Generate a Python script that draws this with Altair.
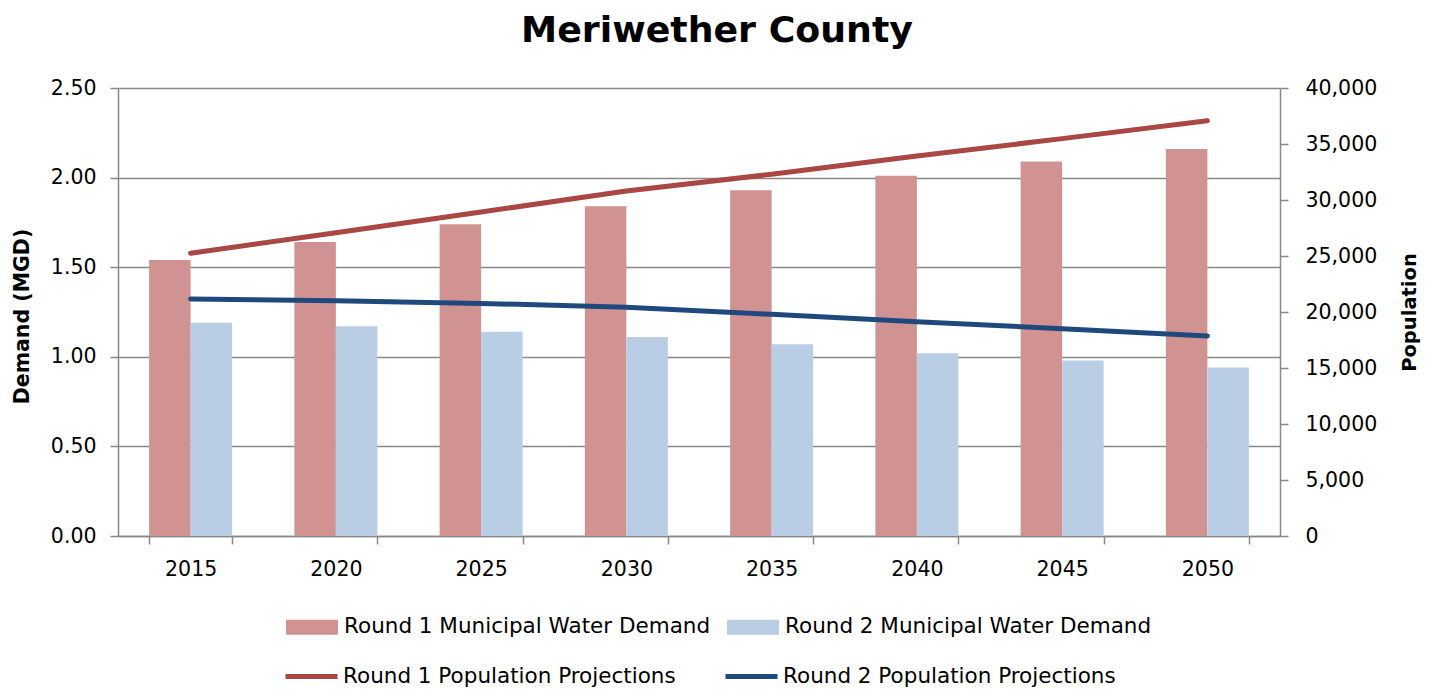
import altair as alt
import pandas as pd

years = ["2015", "2020", "2025", "2030", "2035", "2040", "2045", "2050"]
r1_demand = [1.54, 1.64, 1.74, 1.84, 1.93, 2.01, 2.09, 2.16]
r2_demand = [1.19, 1.17, 1.14, 1.11, 1.07, 1.02, 0.98, 0.94]
r1_pop = [25240, 27080, 28930, 30800, 32300, 33930, 35480, 37080]
r2_pop = [21160, 21010, 20770, 20420, 19790, 19140, 18510, 17860]

bar_names = ["Round 1 Municipal Water Demand", "Round 2 Municipal Water Demand"]
line_names = ["Round 1 Population Projections", "Round 2 Population Projections"]
bar_colors = ["#D19392", "#B9CDE5"]
line_colors = ["#AA4643", "#1F497D"]

bar_df = pd.DataFrame({
    "year": years * 2,
    "series": [bar_names[0]] * len(years) + [bar_names[1]] * len(years),
    "demand": r1_demand + r2_demand,
})
line_df = pd.DataFrame({
    "year": years * 2,
    "series": [line_names[0]] * len(years) + [line_names[1]] * len(years),
    "pop": r1_pop + r2_pop,
})

FONT = "DejaVu Sans"
GRID = "#888888"

x_enc = alt.X(
    "year:N",
    sort=years,
    title=None,
    scale=alt.Scale(paddingInner=0.4286, paddingOuter=0.2143),
    axis=alt.Axis(
        labelAngle=0, labelFont=FONT, labelFontSize=20.5, labelColor="black",
        labelPadding=15, tickBand="extent", tickSize=8, tickColor=GRID,
        tickWidth=1.5, domainColor=GRID, domainWidth=1.5, grid=False,
    ),
)

bars = alt.Chart(bar_df).mark_bar().encode(
    x=x_enc,
    xOffset=alt.XOffset("series:N", sort=bar_names, scale=alt.Scale(paddingInner=0, paddingOuter=0)),
    y=alt.Y(
        "demand:Q",
        scale=alt.Scale(domain=[0, 2.5], nice=False, zero=True),
        axis=alt.Axis(
            title="Demand (MGD)", orient="left", values=[0, 0.5, 1.0, 1.5, 2.0, 2.5],
            format=".2f", labelFont=FONT, labelFontSize=20.5, labelColor="black",
            labelPadding=14, tickSize=8, tickColor=GRID, tickWidth=1.5,
            domainColor=GRID, domainWidth=1.5, grid=True, gridColor=GRID,
            gridWidth=1.5, titleFont=FONT, titleFontSize=20.5, titleFontWeight="bold",
            titleColor="black", titleAngle=270, titleX=-96, titleY=228,
            titleAlign="center", titleBaseline="middle",
        ),
    ),
    fill=alt.Fill(
        "series:N", sort=bar_names,
        scale=alt.Scale(domain=bar_names, range=bar_colors),
        legend=alt.Legend(
            title=None, orient="none", legendX=168, legendY=513,
            direction="horizontal", symbolType="M-1,-0.29H1V0.29H-1Z",
            symbolSize=2704, symbolStrokeWidth=0, labelFont=FONT,
            labelFontSize=21.5, labelColor="black", labelOffset=6,
            columnPadding=16, padding=0, labelLimit=600,
        ),
    ),
)

lines = alt.Chart(line_df).mark_line(strokeWidth=5, strokeCap="round").encode(
    x=alt.X("year:N", sort=years),
    y=alt.Y(
        "pop:Q",
        scale=alt.Scale(domain=[0, 40000], nice=False, zero=True),
        axis=alt.Axis(
            title="Population", orient="right",
            values=[0, 5000, 10000, 15000, 20000, 25000, 30000, 35000, 40000],
            format=",.0f", labelFont=FONT, labelFontSize=20.5, labelColor="black",
            labelPadding=17, tickSize=8, tickColor=GRID, tickWidth=1.5,
            domainColor=GRID, domainWidth=1.5, grid=False, titleFont=FONT,
            titleFontSize=19.5, titleFontWeight="bold", titleColor="black",
            titleAngle=270, titleX=129, titleY=224, titleAlign="center",
            titleBaseline="middle",
        ),
    ),
    stroke=alt.Stroke(
        "series:N", sort=line_names,
        scale=alt.Scale(domain=line_names, range=line_colors),
        legend=alt.Legend(
            title=None, orient="none", legendX=165, legendY=560,
            direction="horizontal", symbolType="stroke", symbolSize=2704,
            symbolStrokeWidth=5, labelFont=FONT, labelFontSize=21.5,
            labelColor="black", labelOffset=3, columnPadding=39, padding=0,
            labelLimit=600,
        ),
    ),
)

chart = (
    alt.layer(bars, lines)
    .resolve_scale(y="independent")
    .properties(
        width=1162,
        height=448,
        autosize=alt.AutoSizeParams(type="none"),
        padding={"left": 110, "top": 80, "right": 141, "bottom": 152},
        title=alt.TitleParams(
            "Meriwether County", font=FONT, fontSize=36.3, fontWeight="bold",
            color="black", anchor="middle", dx=18, offset=29,
        ),
    )
    .configure_view(strokeWidth=0)
)

chart.save("out.html", embed_options={"renderer": "svg", "actions": False})
